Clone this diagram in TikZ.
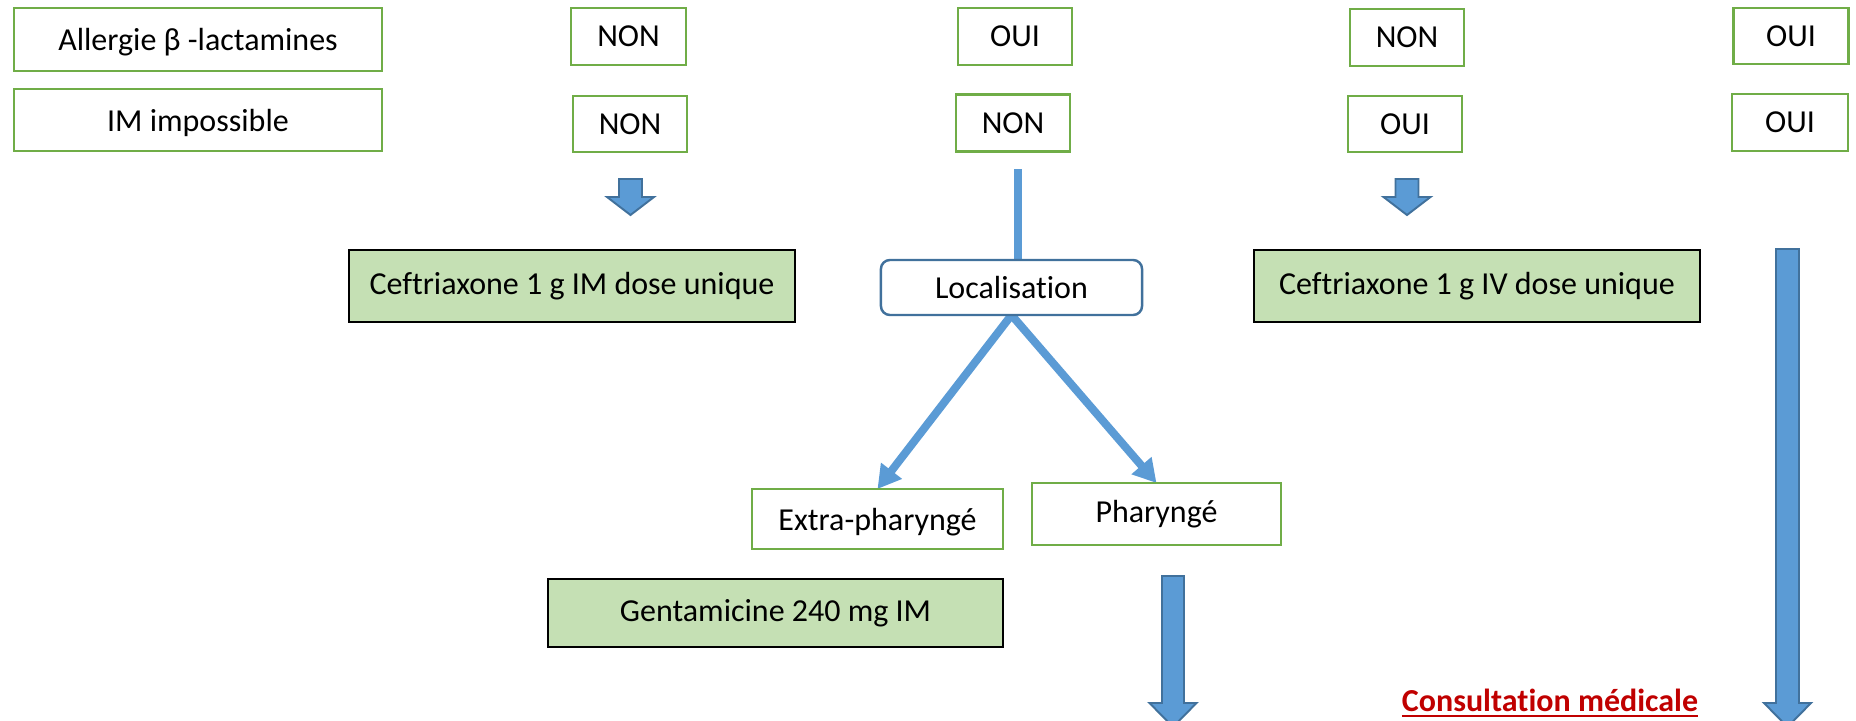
\documentclass[tikz,border=0pt]{standalone}
\usepackage{fontspec}
\setmainfont{Carlito}[Ligatures=NoCommon]
\usetikzlibrary{arrows.meta,backgrounds}

\definecolor{boxgreen}{HTML}{70AD47}
\definecolor{drugfill}{HTML}{C5E0B4}
\definecolor{flowblue}{HTML}{5B9BD5}
\definecolor{edgeblue}{HTML}{41719C}
\definecolor{consultred}{HTML}{C00000}

% block arrow pointing down: centre x, top, start of head, tip, shaft half-width, head half-width
\newcommand{\blockdown}[6]{%
  \draw[blockarrow] (#1-#5,#2) -- (#1+#5,#2) -- (#1+#5,#3) -- (#1+#6,#3)
    -- (#1,#4) -- (#1-#6,#3) -- (#1-#5,#3) -- cycle;}

\tikzset{
  base/.style={font=\fontsize{9.1}{11}\selectfont, inner sep=0pt, outer sep=0pt, align=center},
  choice/.style={base, draw=boxgreen, line width=0.6pt, fill=white},
  drug/.style={base, draw=black, line width=0.75pt, fill=drugfill},
  locbox/.style={base, draw=edgeblue, line width=0.7pt, rounded corners=0.09cm, fill=white},
  lowtext/.style={text height=2.85mm, text depth=0.64mm},
  flow/.style={draw=flowblue, line width=0.08cm},
  flowarrow/.style={flow, -{Triangle[length=0.23cm,width=0.25cm]}},
  blockarrow/.style={fill=flowblue, draw=edgeblue, line width=0.55pt, line join=miter},
  dims/.style 2 args={minimum width=#1, minimum height=#2}
}

\begin{document}
\begin{tikzpicture}[x=0.01cm, y=-0.01cm]
\useasboundingbox (0,0) rectangle (1856,721);
\clip (0,0) rectangle (1856,721);

% criteria column
\node[choice, lowtext, dims={3.68cm}{0.63cm}] (allergie) at (198,39.5) {Allergie β -lactamines};
\node[choice, lowtext, dims={3.68cm}{0.62cm}] (imp) at (198,120) {IM impossible};

% answer combinations
\node[choice, dims={1.15cm}{0.57cm}] (a1) at (628.5,36.5) {NON};
\node[choice, dims={1.14cm}{0.56cm}] (b1) at (630,124) {NON};
\node[choice, dims={1.14cm}{0.57cm}] (a2) at (1015,36.5) {OUI};
\node[choice, dims={1.14cm}{0.57cm}] (b2) at (1013,123) {NON};
\node[choice, dims={1.14cm}{0.57cm}] (a3) at (1407,37.5) {NON};
\node[choice, dims={1.14cm}{0.56cm}] (b3) at (1405,124) {OUI};
\node[choice, dims={1.15cm}{0.56cm}] (a4) at (1791,36) {OUI};
\node[choice, dims={1.16cm}{0.57cm}] (b4) at (1790,122.5) {OUI};

% treatments and branching
\node[drug, dims={4.46cm}{0.72cm}] (cefim) at (572,286) {Ceftriaxone 1 g IM dose unique};
\node[drug, dims={4.46cm}{0.72cm}] (cefiv) at (1477,286) {Ceftriaxone 1 g IV dose unique};
\node[locbox, dims={2.61cm}{0.55cm}] (loc) at (1011.5,287.5) {Localisation};
\node[choice, lowtext, dims={2.51cm}{0.60cm}] (extra) at (877.5,519) {Extra-pharyngé};
\node[choice, dims={2.49cm}{0.62cm}] (phar) at (1156.5,514) {Pharyngé};
\node[drug, dims={4.55cm}{0.68cm}] (genta) at (775.5,613) {Gentamicine 240 mg IM};
\node[base, anchor=base, text=consultred, font=\bfseries\fontsize{9.1}{11}\selectfont]
  (consult) at (1550,711) {\underline{Consultation médicale}};

% connectors
\coordinate (locin) at (1018,169);
\begin{scope}[on background layer]
  \draw[flow] (locin) -- (locin |- loc.north);
  \draw[flowarrow] (loc.south) -- (extra.north);
  \draw[flowarrow] (loc.south) -- (phar.north);
\end{scope}

% block arrows
\blockdown{630.5}{179}{197}{215}{11.5}{23.5}
\blockdown{1407}{179}{197}{215}{11.5}{23.5}
\blockdown{1173}{576}{703}{727}{11}{23.5}
\blockdown{1787.5}{249}{703}{727}{11.5}{23.5}
\end{tikzpicture}
\end{document}
